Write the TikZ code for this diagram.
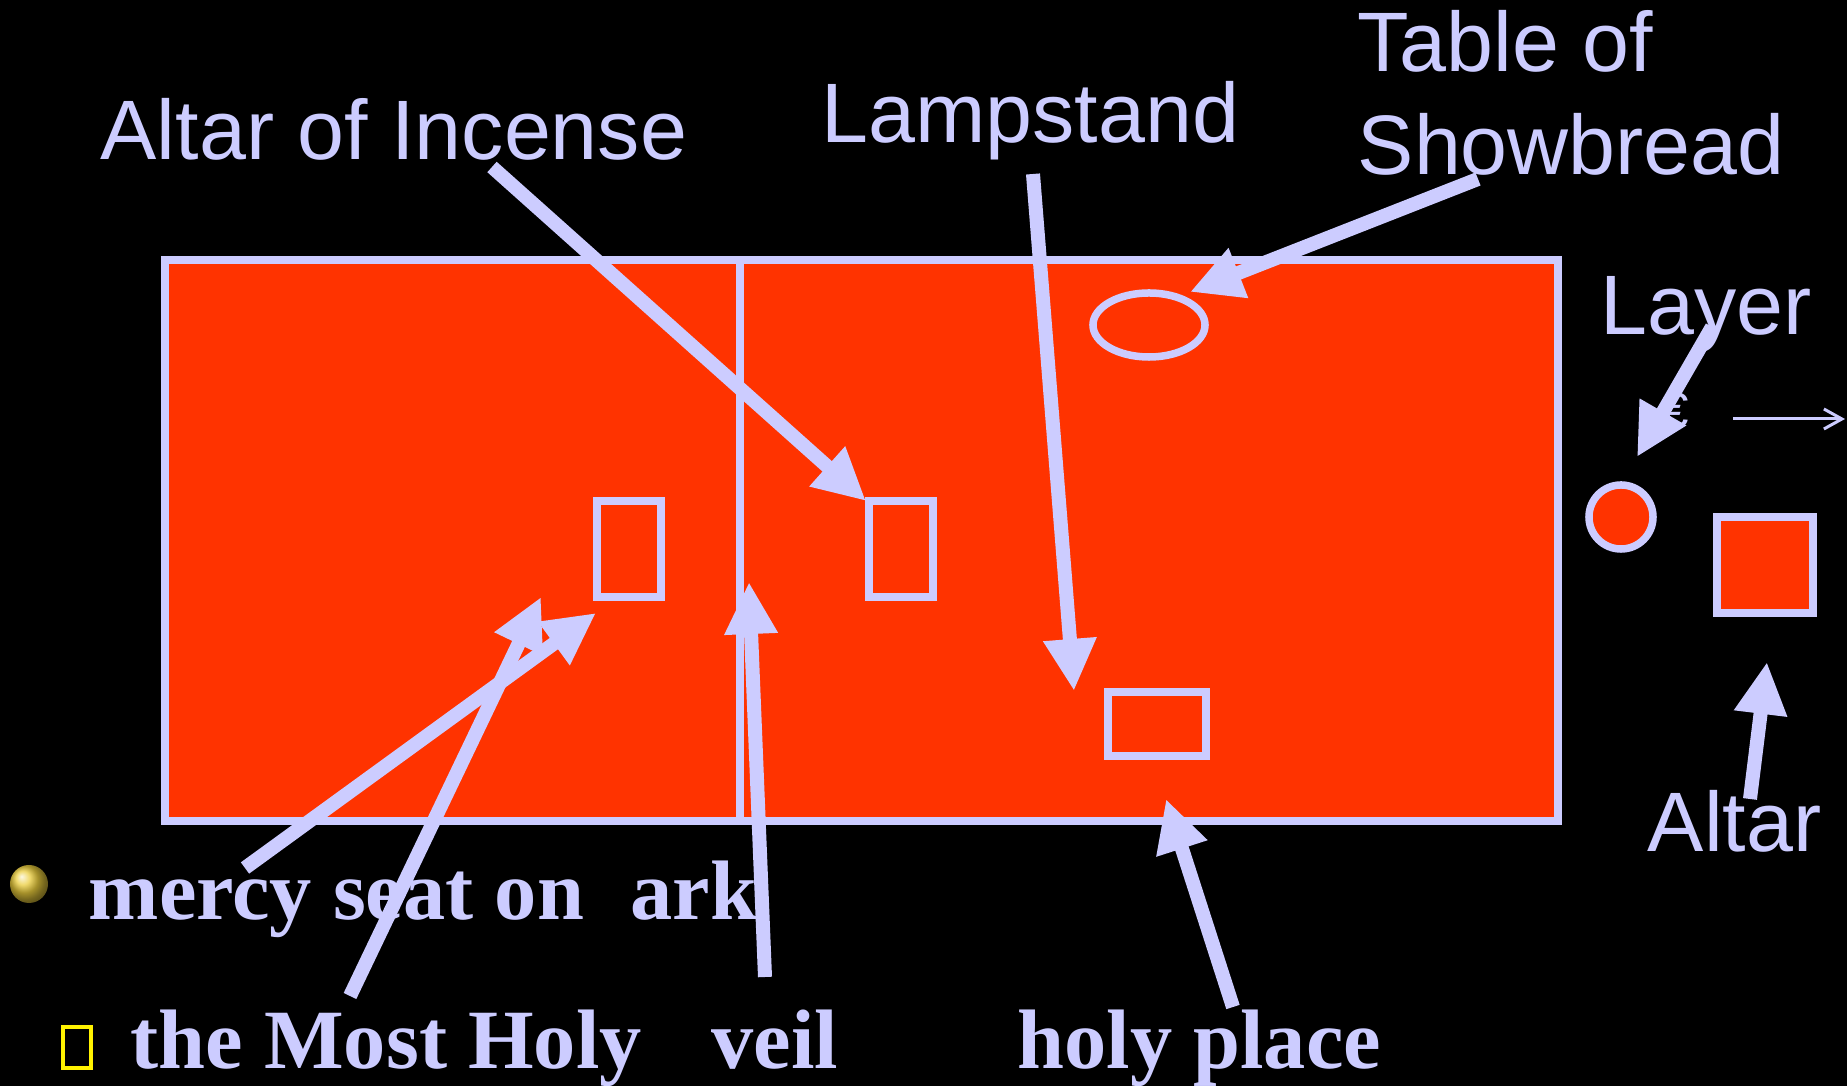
\documentclass[tikz,border=0pt]{standalone}
\usepackage{fontspec}
\setmainfont{Liberation Serif}
\newfontfamily\labelfont{Liberation Sans}
\usetikzlibrary{arrows.meta}
\definecolor{lav}{RGB}{204,204,255}
\definecolor{tabred}{RGB}{255,51,0}
\definecolor{bulletgold}{RGB}{235,205,60}

\begin{document}
\begin{tikzpicture}[x=0.01cm, y=-0.01cm,
    wall/.style={draw=lav, line width=0.075cm},
    pointer/.style={lav, line width=0.14cm, -{Triangle[length=0.52cm, width=0.5cm]}},
    lbl/.style={text=lav, inner sep=0pt, anchor=base west, font=\labelfont\fontsize{24}{29.3}\selectfont},
    big/.style={text=lav, inner sep=0pt, anchor=base west, font=\bfseries\fontsize{24}{29}\selectfont}]
  \fill[black] (0,0) rectangle (1847,1086);
  \useasboundingbox (0,0) rectangle (1847,1086);

  % tent and furniture
  \draw[wall, fill=tabred] (165,260) rectangle (1558,821);
  \draw[wall] (740,260) -- (740,821);
  \draw[wall] (597,501) rectangle (661,597);
  \draw[wall] (869,501) rectangle (933,597);
  \draw[wall] (1108,692) rectangle (1206,756);
  \draw[wall] (1149,325) ellipse [x radius=0.56cm, y radius=0.32cm];
  \draw[wall, fill=tabred] (1621,517) circle [radius=0.32cm];
  \draw[wall, fill=tabred] (1717,517) rectangle (1813,613);

  % labels
  \node[lbl] (incense) at (100,160) {Altar of Incense};
  \node[lbl] (lamp) at (821,143) {Lampstand};
  \node[lbl, align=left] (table) at (1357,175) {Table of\\Showbread};
  \node[lbl] (laver) at (1600,335) {Layer};
  \node[lbl] (altar) at (1647,852) {Altar};
  \node[text=lav, inner sep=0pt, font=\labelfont\fontsize{14}{16}\selectfont] (euro) at (1675,411) {€};

  \shade[ball color=bulletgold] (29,884) circle [radius=0.19cm];
  \draw[yellow, line width=0.035cm] (63,1027) rectangle (91,1068);
  \node[big] (mercy) at (88,920) {mercy seat on\hspace{0.55em}ark};
  \node[big] (most) at (130,1069) {the Most Holy};
  \node[big] (veil) at (711,1069) {veil};
  \node[big] (holy) at (1017,1069) {holy place};

  % arrow ends
  \coordinate (incense-t) at (492,167);  \coordinate (incense-h) at (866,501);
  \coordinate (lamp-t) at (1033,174);    \coordinate (lamp-h) at (1074,691);
  \coordinate (table-t) at (1478,179);   \coordinate (table-h) at (1190,292);
  \coordinate (laver-t) at (1712,327);   \coordinate (laver-h) at (1637,457);
  \coordinate (altar-t) at (1750,799);   \coordinate (altar-h) at (1767,662);
  \coordinate (holy-t) at (1233,1007);   \coordinate (holy-h) at (1166,799);
  \coordinate (veil-t) at (765,977);     \coordinate (veil-h) at (749,582);
  \coordinate (mercy-t) at (245,868);    \coordinate (mercy-h) at (596,613);
  \coordinate (most-t) at (350,996);     \coordinate (most-h) at (541,597);
  \coordinate (note-t) at (1733,419);    \coordinate (note-h) at (1845,419);

  \draw[pointer] (incense-t) -- (incense-h);
  \draw[pointer] (lamp-t) -- (lamp-h);
  \draw[pointer] (table-t) -- (table-h);
  \draw[pointer] (laver-t) -- (laver-h);
  \draw[pointer] (altar-t) -- (altar-h);
  \draw[pointer] (holy-t) -- (holy-h);
  \draw[pointer] (veil-t) -- (veil-h);
  \draw[pointer] (mercy-t) -- (mercy-h);
  \draw[pointer] (most-t) -- (most-h);
  \draw[lav, line width=0.03cm, -{Straight Barb[length=0.18cm, width=0.2cm]}] (note-t) -- (note-h);
\end{tikzpicture}
\end{document}
